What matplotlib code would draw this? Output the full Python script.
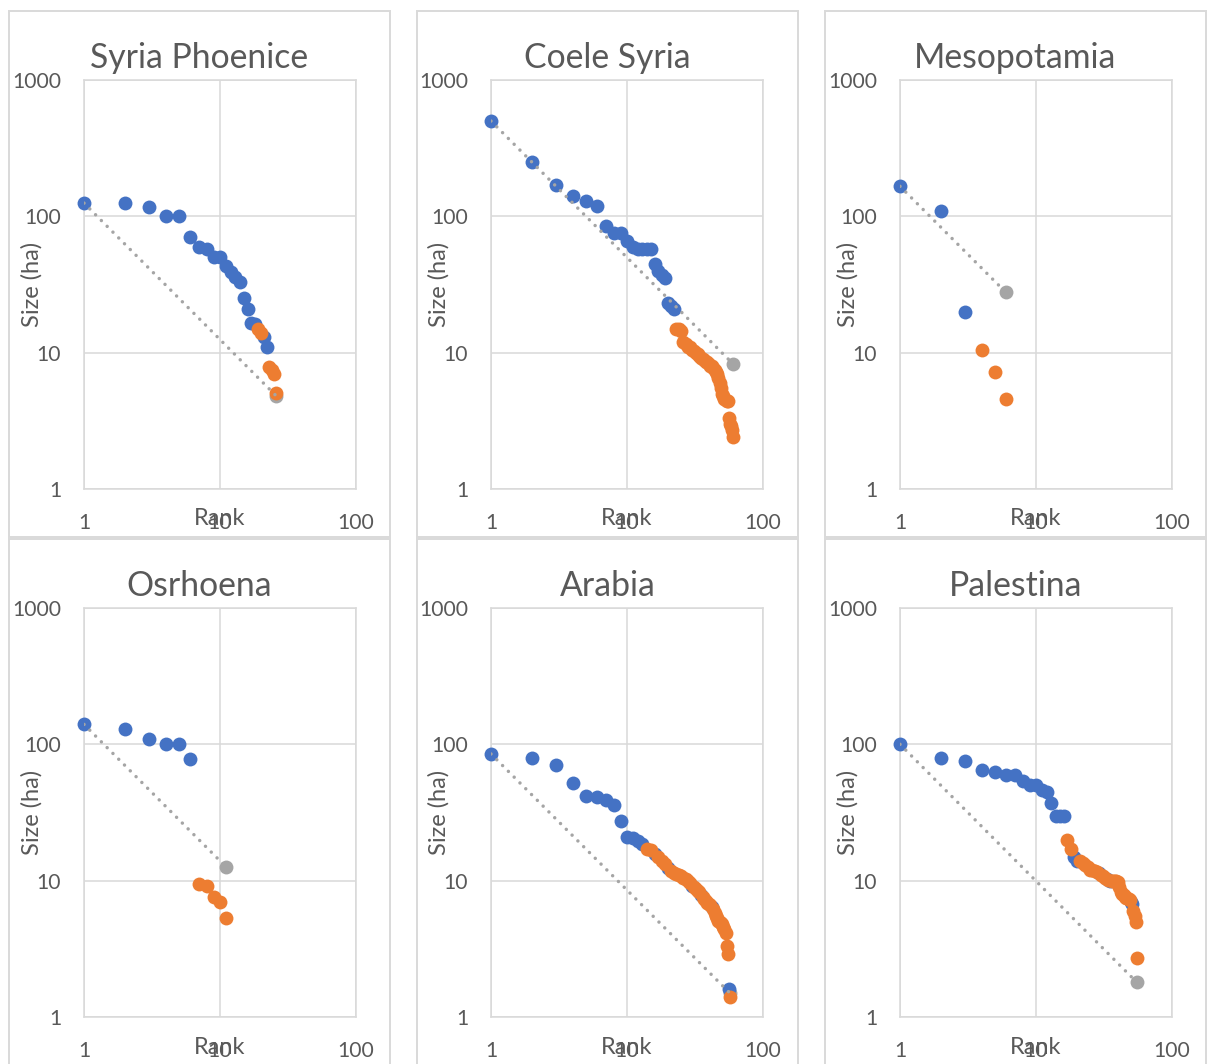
import matplotlib
matplotlib.use("Agg")
import matplotlib.pyplot as plt
from matplotlib.patches import Rectangle
import numpy as np

W, H, DPI = 1208, 1064, 100

BLUE = "#4472C4"
ORANGE = "#ED7D31"
GREY = "#A5A5A5"
TEXT = "#595959"
FRAME = "#D9D9D9"

provinces = ["Syria Phoenice", "Coele Syria", "Mesopotamia",
             "Osrhoena", "Arabia", "Palestina"]

# Site sizes (ha) in rank order; group code per rank: B = blue series, O = orange series
syria_phoenice_sizes = [125, 125, 118, 100, 100, 70, 60, 58, 50, 50, 43, 39, 36,
                        33, 25, 21, 16.5, 16.3, 15, 14, 13, 11, 7.8, 7.4, 7, 5.1]
syria_phoenice_groups = "BBBBBBBBBBBBBBBBBBOOBBOOOO"

coele_syria_sizes = [500, 250, 170, 142, 130, 120, 85, 75, 75, 66, 60, 58, 58,
                     58, 58, 45, 40, 37, 35, 23, 22, 21,
                     15, 15, 14.5, 12, 11.5, 11, 11, 10.5, 10.2, 10, 9.8, 9.5,
                     9.2, 9, 8.8, 8.6, 8.5, 8.3, 8, 8, 7.7, 7.5, 7.2, 7, 6.5, 6,
                     5.5, 5, 4.8, 4.6, 4.5, 4.4, 4.4, 3.3, 3.0, 2.9, 2.7, 2.4]
coele_syria_groups = "B" * 22 + "O" * 38

mesopotamia_sizes = [166, 110, 20, 10.5, 7.2, 4.6]
mesopotamia_groups = "BBBOOO"

osrhoena_sizes = [140, 130, 110, 100, 100, 78, 9.5, 9.1, 7.6, 7.0, 5.3]
osrhoena_groups = "BBBBBBOOOOO"

arabia_sizes = [85, 79, 70, 52, 42, 41, 39, 36, 27.5, 21, 20.5, 19.5, 18.5,
                17.2, 16.8, 15.8, 14.8, 13.9, 13.2, 12.4, 11.8, 11.4, 11.2, 11,
                10.8, 10.5, 10.2, 10, 9.6, 9.2, 9.0, 8.7, 8.4, 8.2, 7.8, 7.6,
                7.3, 7.1, 6.9, 6.8, 6.6, 6.4, 6.2, 5.8, 5.5, 5.3, 5.1, 5.0, 4.9,
                4.8, 4.6, 4.4, 4.1, 3.3, 2.9, 1.6, 1.4]
arabia_groups = ("BBBBBBBBBBBBB" + "OOBOOOBOOOOOOOOO" + "BOOOOBOOOOOOB"
                 + "OOOOOOOOOOOOO" + "BO")

palestina_sizes = [100, 80, 75, 65, 63, 60, 60, 54, 50, 50, 46, 45, 37, 30, 30,
                   30, 20, 17, 15, 14, 14, 13.5, 13, 12.5, 12, 12, 11.8, 11.5,
                   11.3, 11, 10.8, 10.5, 10.2, 10.1, 10, 10, 10, 10, 9.9, 9.8,
                   9, 8.2, 8, 7.8, 7.6, 7.5, 7.4, 7.3, 7.2, 7, 6.8, 6, 5.5, 5,
                   2.7]
palestina_groups = ("BBBBBBBBBBBBBBBB" + "OOBB" + "OOOOOOOOBOOOBOBOOOOO"
                    + "OOOOOOOOOBB" + "OOOO")

all_sizes = [syria_phoenice_sizes, coele_syria_sizes, mesopotamia_sizes,
             osrhoena_sizes, arabia_sizes, palestina_sizes]
all_groups = [syria_phoenice_groups, coele_syria_groups, mesopotamia_groups,
              osrhoena_groups, arabia_groups, palestina_groups]

# End point of the rank-size (Zipf) reference line, at the lowest rank
zipf_tail_sizes = [4.8, 8.3, 27.7, 12.7, 1.5, 1.8]

x_ticks = [1, 10, 100]
y_ticks = [1, 10, 100, 1000]

FONT = "Lato"
plt.rcParams["font.family"] = [FONT, "DejaVu Sans"]

fig = plt.figure(figsize=(W / DPI, H / DPI), dpi=DPI)
fig.patch.set_facecolor("white")

col_panel_left = [9, 417, 825]
panel_w = 381
row_panel_top = [11, 539]
row_panel_h = [526, 560]

col_axes_left = [84, 491, 900]
axes_w = 272
row_axes_top = [80, 608]
axes_h = 409


def fx(px):
    return px / W


def fy(py):
    return 1 - py / H


for i, name in enumerate(provinces):
    r, c = divmod(i, 3)
    # chart frame
    fig.patches.append(Rectangle((fx(col_panel_left[c]), fy(row_panel_top[r] + row_panel_h[r])),
                                 panel_w / W, row_panel_h[r] / H,
                                 transform=fig.transFigure, fill=False,
                                 edgecolor=FRAME, linewidth=1.4, zorder=0))
    left = col_axes_left[c]
    top = row_axes_top[r]
    ax = fig.add_axes([fx(left), fy(top + axes_h), axes_w / W, axes_h / H])
    ax.set_xscale("log")
    ax.set_yscale("log")
    ax.set_xlim(1, 100)
    ax.set_ylim(1, 1000)
    ax.set_xticks(x_ticks)
    ax.set_xticklabels([str(t) for t in x_ticks])
    ax.set_yticks(y_ticks)
    ax.set_yticklabels([str(t) for t in y_ticks])
    ax.minorticks_off()
    ax.tick_params(length=0, labelsize=15.2, labelcolor=TEXT)
    ax.tick_params(axis="y", pad=16.5)
    ax.tick_params(axis="x", pad=17)
    ax.grid(True, color=FRAME, linewidth=1.1)
    ax.set_axisbelow(True)
    for sp in ax.spines.values():
        sp.set_color(FRAME)
        sp.set_linewidth(1.1)

    sizes = np.array(all_sizes[i], dtype=float)
    groups = np.array(list(all_groups[i]))
    n = len(sizes)
    ranks = np.arange(1, n + 1)
    blue = groups == "B"
    orange = groups == "O"
    tail = zipf_tail_sizes[i]

    ax.scatter([n], [tail], s=100, color=GREY, linewidths=0, zorder=2, clip_on=False)
    ax.scatter(ranks[blue], sizes[blue], s=100, color=BLUE, linewidths=0, zorder=3, clip_on=False)
    ax.scatter(ranks[orange], sizes[orange], s=100, color=ORANGE, linewidths=0, zorder=4, clip_on=False)
    ax.plot([1, n], [sizes[0], tail], color=GREY, linewidth=2.5,
            linestyle=(0, (0.01, 2.35)), dash_capstyle="round", zorder=5)

    # title, axis titles
    fig.text(fx(col_panel_left[c] + panel_w / 2), fy(row_panel_top[r] + 57), name,
             ha="center", va="baseline", fontsize=24.3, color=TEXT)
    fig.text(fx(left + axes_w / 2), fy(top + axes_h + 30), "Rank",
             ha="center", va="center", fontsize=17, color=TEXT)
    fig.text(fx(left - 52), fy(top + axes_h / 2), "Size (ha)",
             ha="center", va="center", rotation=90, fontsize=17, color=TEXT)

fig.savefig("out.png", dpi=DPI, facecolor="white")
